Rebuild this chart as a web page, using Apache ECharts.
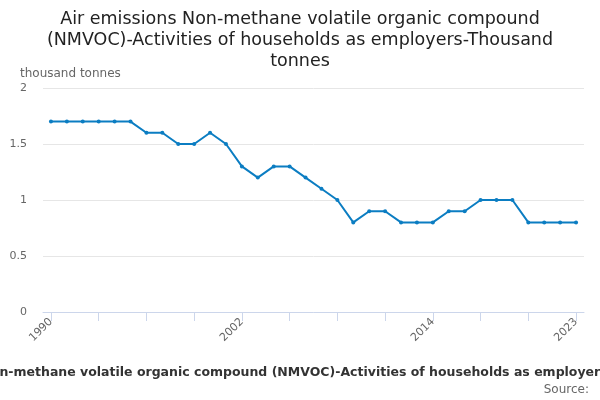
<!DOCTYPE html>
<html>
<head>
<meta charset="utf-8">
<script src="https://cdn.jsdelivr.net/npm/echarts@6/dist/echarts.min.js"></script>
<style>
  html, body { margin: 0; padding: 0; background: #fff; }
  #chart { width: 600px; height: 400px; }
</style>
</head>
<body>
<div id="chart"></div>
<script>
let years = ['1990','1991','1992','1993','1994','1995','1996','1997','1998','1999',
    '2000','2001','2002','2003','2004','2005','2006','2007','2008','2009',
    '2010','2011','2012','2013','2014','2015','2016','2017','2018','2019',
    '2020','2021','2022','2023'];
let values = [1.7, 1.7, 1.7, 1.7, 1.7, 1.7, 1.6, 1.6, 1.5, 1.5,
    1.6, 1.5, 1.3, 1.2, 1.3, 1.3, 1.2, 1.1, 1.0, 0.8,
    0.9, 0.9, 0.8, 0.8, 0.8, 0.9, 0.9, 1.0, 1.0, 1.0,
    0.8, 0.8, 0.8, 0.8];
let yTicks = [0, 0.5, 1, 1.5, 2];

let titleText = 'Air emissions Non-methane volatile organic compound\n(NMVOC)-Activities of households as employers-Thousand\ntonnes';
let seriesName = 'Air emissions Non-methane volatile organic compound (NMVOC)-Activities of households as employers-Thousand tonnes';

let dom = document.getElementById('chart');
let myChart = echarts.init(dom);
let font = 'DejaVu Sans';

let option = {
    animation: false,
    title: {
        text: titleText,
        left: 'center',
        top: 4,
        textStyle: {
            fontFamily: font,
            fontSize: 17.5,
            fontWeight: 'normal',
            color: '#222',
            lineHeight: 21
        }
    },
    graphic: [
        {
            type: 'text',
            x: 307,
            y: 366,
            style: {
                text: seriesName,
                textAlign: 'center',
                font: 'bold 12.5px "DejaVu Sans"',
                fill: '#333'
            }
        },
        {
            type: 'text',
            right: 11,
            top: 384,
            style: {
                text: 'Source:',
                font: '12px "DejaVu Sans"',
                fill: '#666'
            }
        }
    ],
    grid: {
        left: 43,
        right: 16,
        top: 88,
        bottom: 88
    },
    xAxis: {
        type: 'category',
        data: years,
        boundaryGap: true,
        axisLine: { show: true, lineStyle: { color: '#ccd6eb' } },
        axisTick: {
            show: true,
            alignWithLabel: true,
            interval: function (index) { return index % 3 === 0; },
            length: 9,
            lineStyle: { color: '#ccd6eb' }
        },
        axisLabel: {
            interval: function (index) { return index % 12 === 0 || index === years.length - 1; },
            rotate: 45,
            fontFamily: font,
            fontSize: 11,
            color: '#666',
            margin: 8
        }
    },
    yAxis: {
        type: 'value',
        min: yTicks[0],
        max: yTicks[yTicks.length - 1],
        interval: 0.5,
        name: 'thousand tonnes',
        nameLocation: 'end',
        nameGap: 8,
        nameTextStyle: {
            fontFamily: font,
            fontSize: 12,
            color: '#666',
            align: 'left',
            padding: [0, 0, 0, -23]
        },
        axisLine: { show: false },
        axisTick: { show: false },
        axisLabel: {
            fontFamily: font,
            fontSize: 11,
            color: '#666',
            margin: 16
        },
        splitLine: { lineStyle: { color: '#e6e6e6' } }
    },
    series: [
        {
            name: seriesName,
            type: 'line',
            data: values,
            symbol: 'circle',
            symbolSize: 4,
            itemStyle: { color: '#0b7dc2' },
            lineStyle: { color: '#0b7dc2', width: 2 }
        }
    ]
};

myChart.setOption(option, true);
window.addEventListener('resize', function () {
    myChart.resize();
});
</script>
</body>
</html>
